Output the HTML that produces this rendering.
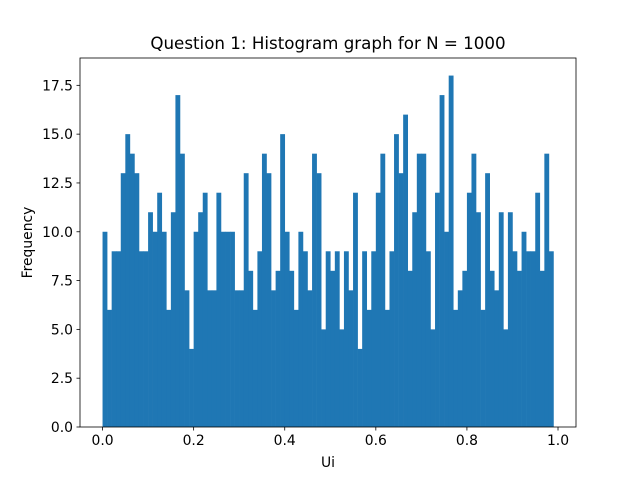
<!DOCTYPE html>
<html><head><meta charset="utf-8"><style>
body{margin:0;background:#fff}
svg{display:block;font-family:"DejaVu Sans","Liberation Sans",sans-serif}
</style></head><body>
<svg id="chart" width="640" height="480" viewBox="0 0 640 480" xmlns="http://www.w3.org/2000/svg">
<rect width="640" height="480" fill="#fff"/>
<text x="328" y="49" text-anchor="middle" font-size="16.7" fill="#000">Question 1: Histogram graph for N = 1000</text>
<g id="bars"></g>
<g id="xticks"></g>
<g id="yticks"></g>
<rect x="80" y="58" width="496" height="369" fill="none" stroke="#000" stroke-width="0.8"/>
<text x="328" y="467" text-anchor="middle" font-size="13.9">Ui</text>
<text transform="translate(32,242.5) rotate(-90)" text-anchor="middle" font-size="13.9">Frequency</text>
</svg>
<script>
const binStart = 0.0;
const binWidth = 0.01;
const counts = [10,6,9,9,13,15,14,13,9,9,11,10,12,10,6,11,17,14,7,4,10,11,12,7,7,12,
10,10,10,7,7,13,8,6,9,14,13,7,8,15,10,8,6,10,9,7,14,13,5,9,8,
9,5,9,7,12,4,9,6,9,12,14,6,9,15,13,16,8,11,14,14,9,5,12,17,
10,18,6,7,8,12,14,11,6,13,8,7,11,5,11,9,8,10,9,9,12,8,14,9];
const xTicks = [0.0,0.2,0.4,0.6,0.8,1.0];
const xTickLabels = ["0.0","0.2","0.4","0.6","0.8","1.0"];
const yTicks = [0,2.5,5,7.5,10,12.5,15,17.5];
const yTickLabels = ["0.0","2.5","5.0","7.5","10.0","12.5","15.0","17.5"];

const NS="http://www.w3.org/2000/svg";
const L=80,R=576,T=58,B=427;
const xMaxData=binStart+binWidth*counts.length;
const xPad=(xMaxData-binStart)*0.05;
const x0=binStart-xPad,x1=xMaxData+xPad;
const yMax=Math.max(...counts)*1.05;
const sx=v=>L+(v-x0)/(x1-x0)*(R-L);
const sy=v=>B-v/yMax*(B-T);
function mk(tag,attrs,parent){const e=document.createElementNS(NS,tag);for(const k in attrs)e.setAttribute(k,attrs[k]);parent.appendChild(e);return e;}
const bars=document.getElementById('bars');
counts.forEach((c,i)=>{
  const a=sx(binStart+i*binWidth),b=sx(binStart+(i+1)*binWidth);
  const r=mk('rect',{x:a,y:sy(c),width:b-a+0.3,height:sy(0)-sy(c),fill:'#1f77b4'},bars);
  
  
});
const xg=document.getElementById('xticks');
xTicks.forEach((v,i)=>{
  const x=sx(v);
  const l=mk('line',{x1:x,x2:x,y1:B,y2:B+3.5,stroke:'#000','stroke-width':0.8},xg);
  
  
  const t=mk('text',{x:x,y:B+18,'text-anchor':'middle','font-size':13.9},xg);
  t.textContent=xTickLabels[i];
  
  
});
const yg=document.getElementById('yticks');
yTicks.forEach((v,i)=>{
  const y=sy(v);
  const l=mk('line',{x1:L-3.5,x2:L,y1:y,y2:y,stroke:'#000','stroke-width':0.8},yg);
  
  
  const t=mk('text',{x:L-7,y:y+5,'text-anchor':'end','font-size':13.9},yg);
  t.textContent=yTickLabels[i];
  
  
});
</script>
</body></html>
